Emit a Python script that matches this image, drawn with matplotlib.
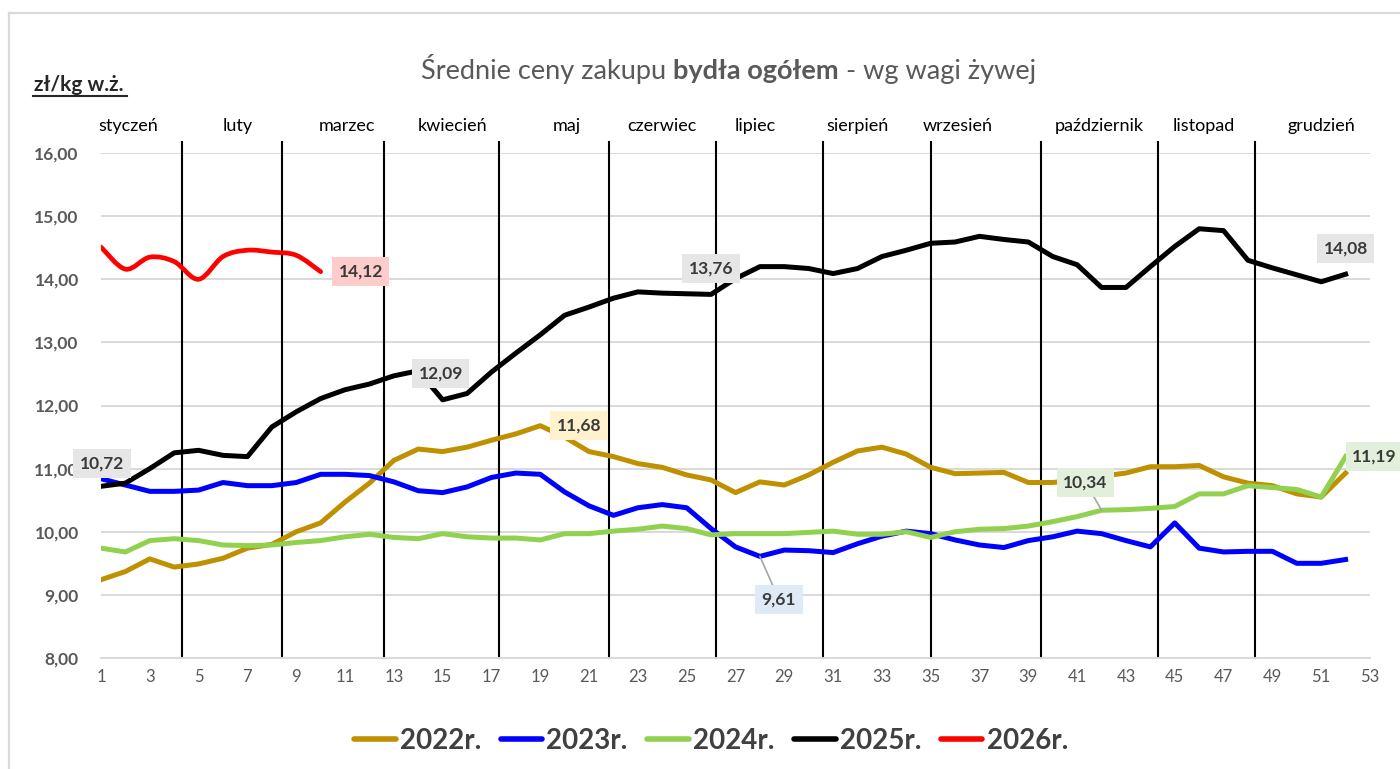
import numpy as np
import matplotlib
matplotlib.use('Agg')
import matplotlib.pyplot as plt
from matplotlib.lines import Line2D
from matplotlib.path import Path
from matplotlib.patches import PathPatch

plt.rcParams['font.family'] = ['Lato', 'DejaVu Sans']

# dane - tygodnie i ceny (zł/kg w.ż.)
tygodnie = list(range(1, 53))
ceny_2022 = [9.24, 9.37, 9.57, 9.44, 9.49, 9.58, 9.74, 9.80, 10.00, 10.14,
             10.47, 10.77, 11.13, 11.31, 11.27, 11.34, 11.45, 11.55, 11.68, 11.50,
             11.27, 11.19, 11.08, 11.02, 10.90, 10.82, 10.62, 10.79, 10.74, 10.90,
             11.10, 11.28, 11.34, 11.23, 11.02, 10.92, 10.93, 10.94, 10.78, 10.78,
             10.82, 10.88, 10.93, 11.03, 11.03, 11.05, 10.87, 10.77, 10.73, 10.60,
             10.55, 10.93]
ceny_2023 = [10.84, 10.74, 10.64, 10.64, 10.66, 10.78, 10.73, 10.73, 10.78, 10.91,
             10.91, 10.89, 10.79, 10.65, 10.62, 10.71, 10.86, 10.93, 10.91, 10.63,
             10.41, 10.26, 10.38, 10.43, 10.38, 10.05, 9.76, 9.61, 9.71, 9.70,
             9.67, 9.81, 9.93, 10.01, 9.97, 9.87, 9.79, 9.75, 9.86, 9.92,
             10.01, 9.97, 9.86, 9.76, 10.14, 9.74, 9.68, 9.69, 9.69, 9.50,
             9.50, 9.56]
ceny_2024 = [9.74, 9.68, 9.86, 9.89, 9.86, 9.79, 9.78, 9.79, 9.83, 9.86,
             9.92, 9.96, 9.91, 9.89, 9.97, 9.92, 9.90, 9.90, 9.87, 9.97,
             9.97, 10.01, 10.04, 10.09, 10.05, 9.95, 9.97, 9.97, 9.97, 9.99,
             10.01, 9.96, 9.96, 10.00, 9.91, 10.00, 10.04, 10.05, 10.09, 10.16,
             10.24, 10.34, 10.35, 10.37, 10.40, 10.60, 10.60, 10.73, 10.70, 10.67,
             10.55, 11.19]
ceny_2025 = [10.72, 10.77, 11.00, 11.25, 11.29, 11.21, 11.19, 11.66, 11.90, 12.11,
             12.25, 12.34, 12.47, 12.55, 12.09, 12.19, 12.53, 12.83, 13.12, 13.43,
             13.56, 13.70, 13.80, 13.78, 13.77, 13.76, 14.01, 14.20, 14.20, 14.17,
             14.09, 14.17, 14.36, 14.46, 14.57, 14.59, 14.68, 14.63, 14.59, 14.36,
             14.23, 13.87, 13.87, 14.20, 14.52, 14.80, 14.77, 14.30, 14.18, 14.07,
             13.96, 14.08]
tygodnie_2026 = list(range(1, 11))
ceny_2026 = [14.51, 14.16, 14.35, 14.28, 14.00, 14.36, 14.46, 14.43, 14.38, 14.12]

miesiace = ['styczeń', 'luty', 'marzec', 'kwiecień', 'maj', 'czerwiec', 'lipiec',
            'sierpień', 'wrzesień', 'październik', 'listopad', 'grudzień']
miesiace_x = [2.1, 6.6, 11.1, 15.4, 20.1, 24.0, 27.8, 32.0, 36.1, 41.9, 46.2, 51.0]
granice = [4.3, 8.4, 12.6, 17.3, 21.8, 26.2, 30.6, 35.0, 39.5, 44.3, 48.3]

kolory = {'2022r.': '#BF9000', '2023r.': '#0000FF', '2024r.': '#92D050',
          '2025r.': '#000000', '2026r.': '#FF0000'}


def gladka_sciezka(x, y):
    # krzywa wygładzona jak w Excelu (Bezier przez punkty)
    n = len(x)
    verts = [(x[0], y[0])]
    codes = [Path.MOVETO]
    for i in range(n - 1):
        a = i - 1 if i > 0 else i
        d = i + 2 if i + 2 < n else i + 1
        c1 = (x[i] + (x[i + 1] - x[a]) / 6, y[i] + (y[i + 1] - y[a]) / 6)
        c2 = (x[i + 1] - (x[d] - x[i]) / 6, y[i + 1] - (y[d] - y[i]) / 6)
        verts += [c1, c2, (x[i + 1], y[i + 1])]
        codes += [Path.CURVE4] * 3
    return Path(verts, codes)


fig = plt.figure(figsize=(14, 7.69), dpi=100)
ax = fig.add_axes([101 / 1400, 1 - 658 / 769, (1370 - 101) / 1400, (658 - 153) / 769])

# siatka
ax.set_xlim(1, 53)
ax.set_ylim(8, 16)
ax.set_yticks(np.arange(8, 16.5, 1))
ax.set_xticks(range(1, 54, 2))
ax.yaxis.grid(True, color='#d9d9d9', lw=1.4)
ax.set_axisbelow(True)
for s in ['top', 'right', 'left']:
    ax.spines[s].set_visible(False)
ax.spines['bottom'].set_color('#d9d9d9')
ax.spines['bottom'].set_linewidth(1.4)
ax.tick_params(length=0)
ax.tick_params(axis='y', pad=16, labelsize=12.5, labelcolor='#595959')
ax.tick_params(axis='x', pad=8, labelsize=12, labelcolor='#595959')
ax.set_yticklabels([('%.2f' % v).replace('.', ',') for v in ax.get_yticks()], fontweight='bold')

# linie miesięcy
for g in granice:
    ax.plot([g, g], [8, 16.17], color='black', lw=1.5, zorder=1.5, clip_on=False)
for m, mx in zip(miesiace, miesiace_x):
    ax.text(mx, 16.35, m, ha='center', va='baseline', fontsize=13, color='black', clip_on=False)

# serie
ax.plot(tygodnie, ceny_2022, color=kolory['2022r.'], lw=3.6, zorder=2)
ax.plot(tygodnie, ceny_2023, color=kolory['2023r.'], lw=3.6, zorder=2.1)
ax.plot(tygodnie, ceny_2024, color=kolory['2024r.'], lw=3.6, zorder=2.2)
ax.plot(tygodnie, ceny_2025, color=kolory['2025r.'], lw=3.6, zorder=2.3)
ax.add_patch(PathPatch(gladka_sciezka(tygodnie_2026, ceny_2026), fill=False,
                       edgecolor=kolory['2026r.'], lw=3.4, capstyle='round', zorder=2.4))


def etykieta(x, y, dx, dy, kolor_tla, linia=False):
    kw = dict(xy=(x, y), xytext=(dx, dy), textcoords='offset pixels', ha='center', va='center',
              fontsize=12.5, fontweight='bold', color='#3a3a3a', zorder=6, annotation_clip=False,
              bbox=dict(boxstyle='square,pad=0.38', fc=kolor_tla, ec='none'))
    if linia:
        kw['arrowprops'] = dict(arrowstyle='-', color='#a6a6a6', lw=1.2, shrinkA=0, shrinkB=0)
    ax.annotate(('%.2f' % y).replace('.', ','), **kw)


etykieta(1, ceny_2025[0], 1, 23, '#e7e6e6')
etykieta(15, ceny_2025[14], -2, 26, '#e7e6e6')
etykieta(26, ceny_2025[25], 0, 26, '#e7e6e6')
etykieta(52, ceny_2025[51], 0, 26, '#e7e6e6')
etykieta(10, ceny_2026[9], 40, 0, '#ffcccc')
etykieta(19, ceny_2022[18], 39, 0, '#fff2cc')
etykieta(28, ceny_2023[27], 19, -43, '#deebf7', linia=True)
etykieta(42, ceny_2024[41], -16, 28, '#e2efda', linia=True)
etykieta(52, ceny_2024[51], 29, 0, '#e2efda')

# tytuł z pogrubionym fragmentem
y_tyt = 1 - 79 / 769
t1 = fig.text(421 / 1400, y_tyt, 'Średnie ceny zakupu ', fontsize=19.5, color='#595959', va='baseline')
t2 = fig.text(0, y_tyt, 'bydła ogółem', fontsize=19.5, color='#595959', fontweight='bold', va='baseline')
t3 = fig.text(0, y_tyt, ' - wg wagi żywej', fontsize=19.5, color='#595959', va='baseline')
fig.canvas.draw()
r = fig.canvas.get_renderer()
t2.set_x(t1.get_window_extent(r).x1 / 1400)
fig.canvas.draw()
t3.set_x(t2.get_window_extent(r).x1 / 1400)

# opis osi y
fig.text(34 / 1400, 1 - 91 / 769, 'zł/kg w.ż.', fontsize=15, fontweight='bold', color='#262626',
         ha='left', va='baseline')
fig.add_artist(Line2D([33 / 1400, 127 / 1400], [1 - 96 / 769, 1 - 96 / 769], color='#262626', lw=1.5))

# ramka wykresu
fig.add_artist(Line2D([9 / 1400, 9 / 1400], [0, 1 - 12.5 / 769], color='#d9d9d9', lw=1.6))
fig.add_artist(Line2D([9 / 1400, 1], [1 - 12.5 / 769, 1 - 12.5 / 769], color='#d9d9d9', lw=1.6))

# legenda
uchwyty = [Line2D([], [], color=c, lw=4, solid_capstyle='round') for c in kolory.values()]
fig.legend(uchwyty, list(kolory.keys()), loc='center', bbox_to_anchor=(711 / 1400, 1 - 741 / 769),
           ncol=5, frameon=False, handlelength=1.5, handletextpad=0.15, columnspacing=0.7,
           prop={'size': 20, 'weight': 'bold'}, labelcolor='#404040')

plt.savefig('out.png', dpi=100)
